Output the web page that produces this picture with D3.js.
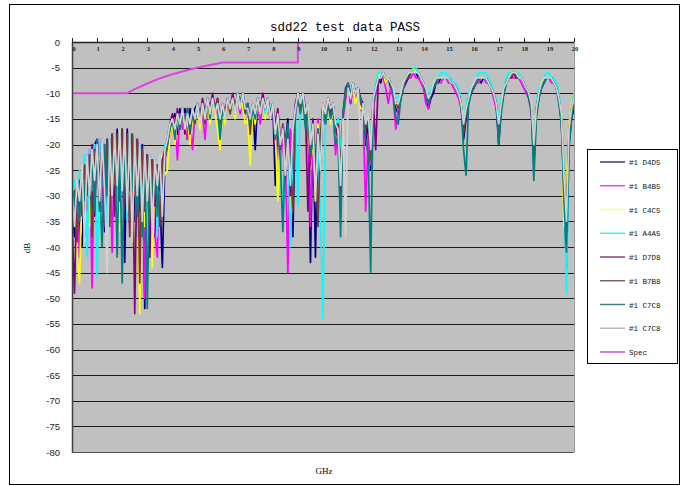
<!DOCTYPE html>
<html>
<head>
<meta charset="utf-8">
<script src="https://cdn.jsdelivr.net/npm/d3@7"></script>
<style>
  body { margin: 0; background: #fff; }
  svg { display: block; }
</style>
</head>
<body>
<svg id="chart" width="687" height="486"></svg>
<script>
// sweep grid: one point every 0.1 GHz from 0 to 20 GHz
const freqStep = 0.1;

const xTicks = [0, 1, 2, 3, 4, 5, 6, 7, 8, 9, 10, 11, 12, 13, 14, 15, 16, 17, 18, 19, 20];
const yTicks = [0, -5, -10, -15, -20, -25, -30, -35, -40, -45, -50, -55, -60, -65, -70, -75, -80];

const seriesNames = ['#1 D4D5', '#1 B4B5', '#1 C4C5', '#1 A4A5', '#1 D7D8', '#1 B7B8', '#1 C7C8', '#1 C7C8'];

// measured sdd22 (dB)
const d4d5 = [
  -33, -38, -29, -36, -40, -26, -31, -22, -35, -20,
  -19, -30, -20, -37, -19, -28, -18, -33, -17, -26,
  -17, -43, -17, -30, -18, -35, -19, -40, -20, -52,
  -22, -34, -23, -38, -24, -30, -44, -23, -20, -17,
  -15, -14, -18, -13, -16, -13, -19, -13, -15, -13,
  -12, -16, -12, -15, -11, -13, -11, -14, -12, -16,
  -12, -14, -11, -13, -11, -14, -10, -12, -10, -13,
  -13, -16, -12, -21, -11, -14, -11, -13, -11, -15,
  -12, -28, -14, -22, -16, -20, -15, -30, -38, -14,
  -10, -12, -10, -15, -12, -43, -16, -42, -16, -24,
  -12, -15, -11, -13, -12, -18, -15, -24, -14, -10,
  -9, -12, -8, -10, -9, -12, -12, -20, -16, -25,
  -12, -9, -7, -8, -6, -8, -7, -9, -10, -13,
  -14, -11, -9, -8, -7, -6, -6, -6, -7, -7,
  -8, -10, -13, -11, -10, -8, -8, -7, -7, -7,
  -7, -8, -8, -9, -10, -12, -19, -15, -12, -10,
  -9, -8, -7, -8, -7, -7, -8, -9, -10, -12,
  -20, -13, -10, -8, -7, -7, -6, -7, -7, -7,
  -8, -9, -11, -13, -22, -14, -11, -9, -8, -7,
  -7, -7, -8, -9, -11, -16, -30, -44, -20, -15,
  -13
];
const b4b5 = [
  -30, -34, -28, -42, -27, -24, -33, -21, -48, -20,
  -22, -19, -33, -20, -27, -19, -41, -18, -30, -19,
  -18, -31, -18, -36, -19, -28, -20, -37, -21, -50,
  -23, -31, -24, -37, -42, -25, -28, -22, -21, -18,
  -16, -15, -23, -14, -17, -14, -19, -15, -21, -14,
  -13, -16, -14, -19, -12, -15, -11, -14, -13, -17,
  -13, -15, -12, -14, -11, -13, -11, -14, -11, -13,
  -14, -17, -13, -15, -12, -16, -11, -14, -12, -15,
  -13, -20, -16, -25, -18, -22, -45, -17, -20, -14,
  -11, -13, -10, -14, -13, -36, -17, -28, -15, -21,
  -13, -16, -12, -14, -13, -22, -16, -26, -15, -11,
  -10, -12, -9, -11, -10, -13, -14, -33, -18, -24,
  -13, -10, -8, -7, -7, -9, -12, -9, -11, -17,
  -13, -11, -9, -8, -7, -7, -6, -7, -7, -8,
  -9, -12, -13, -10, -9, -8, -8, -8, -7, -7,
  -8, -8, -9, -10, -11, -13, -17, -14, -11, -10,
  -9, -8, -8, -7, -7, -8, -8, -9, -11, -13,
  -17, -12, -10, -8, -7, -7, -7, -7, -7, -8,
  -9, -10, -11, -14, -20, -13, -10, -9, -8, -7,
  -7, -8, -8, -9, -12, -15, -25, -40, -18, -13,
  -11
];
const c4c5 = [
  -36, -30, -42, -47, -28, -33, -23, -36, -21, -31,
  -20, -35, -21, -26, -20, -34, -19, -28, -19, -37,
  -18, -26, -19, -33, -19, -53, -20, -53, -22, -36,
  -23, -29, -44, -25, -30, -24, -22, -26, -25, -18,
  -16, -20, -15, -17, -14, -18, -15, -20, -14, -16,
  -13, -17, -13, -15, -12, -16, -12, -14, -17, -21,
  -13, -16, -12, -14, -11, -15, -11, -13, -12, -16,
  -15, -24, -13, -16, -12, -14, -11, -15, -12, -14,
  -12, -17, -31, -19, -16, -24, -17, -33, -19, -13,
  -10, -14, -11, -16, -13, -25, -18, -31, -16, -20,
  -12, -15, -11, -16, -13, -19, -17, -23, -14, -10,
  -8, -11, -9, -12, -10, -13, -13, -17, -15, -21,
  -11, -8, -6, -7, -6, -8, -7, -8, -10, -12,
  -13, -10, -8, -7, -6, -6, -5, -6, -6, -7,
  -8, -10, -11, -9, -8, -7, -7, -7, -7, -7,
  -7, -8, -8, -9, -10, -11, -15, -13, -11, -9,
  -8, -8, -7, -7, -7, -7, -8, -9, -10, -12,
  -16, -12, -9, -8, -7, -6, -6, -6, -7, -7,
  -8, -9, -10, -12, -18, -13, -10, -8, -7, -7,
  -7, -7, -8, -9, -11, -14, -36, -28, -16, -12,
  -10
];
const a4a5 = [
  -31, -27, -37, -25, -30, -22, -42, -21, -29, -20,
  -46, -19, -28, -20, -36, -19, -27, -18, -32, -18,
  -24, -18, -35, -18, -27, -19, -38, -20, -30, -21,
  -36, -22, -30, -23, -38, -22, -26, -20, -19, -17,
  -15, -18, -14, -16, -13, -17, -14, -18, -13, -16,
  -12, -15, -12, -16, -11, -14, -11, -13, -12, -19,
  -12, -15, -11, -13, -11, -14, -10, -13, -10, -14,
  -13, -17, -12, -15, -11, -13, -11, -14, -11, -13,
  -12, -18, -14, -20, -36, -19, -18, -40, -22, -13,
  -32, -12, -10, -14, -12, -19, -16, -27, -22, -34,
  -54, -16, -12, -14, -12, -16, -15, -22, -13, -10,
  -9, -11, -8, -10, -9, -11, -12, -16, -14, -19,
  -11, -8, -6, -6, -6, -7, -7, -8, -9, -11,
  -11, -10, -8, -7, -6, -6, -5, -5, -6, -7,
  -8, -9, -11, -9, -8, -7, -7, -6, -6, -6,
  -7, -7, -8, -8, -9, -11, -16, -12, -10, -9,
  -8, -7, -6, -6, -6, -6, -7, -8, -10, -11,
  -15, -11, -9, -7, -6, -6, -6, -6, -6, -7,
  -8, -9, -10, -12, -21, -12, -9, -8, -7, -6,
  -6, -7, -7, -8, -10, -14, -24, -49, -19, -13,
  -10
];
const d7d8 = [
  -35, -49, -28, -33, -25, -38, -22, -29, -20, -34,
  -20, -27, -19, -36, -19, -29, -18, -34, -18, -27,
  -17, -32, -18, -29, -18, -53, -19, -33, -21, -28,
  -22, -42, -23, -32, -24, -29, -23, -21, -19, -16,
  -14, -17, -13, -16, -13, -18, -13, -17, -13, -15,
  -12, -15, -11, -14, -11, -13, -10, -13, -11, -15,
  -12, -14, -11, -13, -10, -13, -10, -12, -10, -13,
  -12, -15, -12, -14, -11, -13, -10, -13, -11, -14,
  -12, -16, -13, -19, -17, -23, -16, -30, -18, -12,
  -10, -13, -10, -13, -33, -21, -15, -26, -17, -22,
  -12, -14, -11, -14, -12, -17, -19, -33, -14, -9,
  -8, -11, -8, -10, -9, -11, -12, -18, -15, -22,
  -11, -21, -8, -7, -6, -7, -7, -8, -10, -12,
  -12, -11, -9, -8, -7, -6, -6, -6, -6, -7,
  -8, -10, -12, -10, -9, -8, -7, -7, -7, -7,
  -7, -8, -8, -9, -10, -12, -17, -14, -11, -10,
  -9, -8, -7, -7, -7, -7, -8, -9, -10, -12,
  -18, -13, -10, -8, -7, -7, -6, -7, -7, -7,
  -8, -9, -11, -13, -24, -13, -10, -9, -8, -7,
  -7, -7, -8, -9, -11, -15, -29, -37, -18, -14,
  -12
];
const b7b8 = [
  -32, -29, -39, -27, -34, -24, -30, -22, -38, -21,
  -21, -33, -20, -29, -19, -36, -18, -27, -18, -31,
  -17, -28, -18, -38, -18, -30, -19, -47, -21, -33,
  -22, -35, -23, -29, -24, -36, -24, -22, -20, -17,
  -15, -16, -14, -17, -13, -16, -13, -18, -14, -16,
  -12, -14, -12, -16, -11, -14, -11, -13, -11, -16,
  -12, -14, -11, -14, -11, -13, -10, -12, -10, -14,
  -12, -18, -12, -14, -11, -14, -11, -13, -11, -14,
  -12, -17, -15, -21, -16, -27, -17, -24, -33, -13,
  -10, -13, -11, -15, -12, -24, -16, -22, -36, -18,
  -12, -15, -11, -13, -12, -17, -16, -25, -14, -10,
  -9, -11, -8, -10, -9, -12, -13, -17, -15, -23,
  -11, -9, -7, -7, -6, -7, -7, -8, -10, -12,
  -13, -11, -9, -7, -7, -6, -6, -6, -6, -7,
  -8, -10, -12, -10, -9, -8, -7, -7, -7, -7,
  -7, -8, -8, -9, -10, -12, -18, -14, -11, -10,
  -9, -8, -7, -7, -7, -7, -8, -9, -10, -12,
  -17, -12, -10, -8, -7, -7, -6, -7, -7, -7,
  -8, -9, -10, -13, -22, -13, -10, -9, -8, -7,
  -7, -7, -8, -9, -11, -15, -27, -33, -17, -13,
  -11
];
const c7c8a = [
  -38, -30, -28, -35, -26, -31, -23, -29, -21, -33,
  -19, -28, -40, -20, -30, -19, -27, -18, -42, -18,
  -47, -18, -31, -18, -29, -19, -34, -20, -38, -21,
  -52, -22, -30, -23, -34, -23, -32, -22, -20, -17,
  -15, -19, -14, -17, -14, -16, -13, -17, -14, -15,
  -12, -15, -12, -14, -11, -15, -11, -13, -12, -19,
  -13, -15, -12, -13, -11, -14, -10, -12, -10, -13,
  -12, -16, -13, -15, -11, -13, -11, -13, -11, -14,
  -13, -19, -16, -23, -37, -20, -16, -25, -19, -13,
  -11, -14, -11, -17, -13, -22, -19, -26, -17, -23,
  -13, -16, -12, -15, -13, -20, -18, -38, -14, -10,
  -8, -10, -8, -10, -9, -11, -13, -19, -22, -45,
  -12, -9, -7, -7, -6, -7, -7, -8, -10, -15,
  -16, -11, -9, -7, -6, -6, -6, -6, -6, -7,
  -8, -10, -12, -10, -9, -8, -7, -7, -7, -7,
  -7, -8, -8, -9, -10, -12, -21, -26, -12, -10,
  -9, -8, -7, -7, -7, -7, -8, -9, -10, -12,
  -20, -14, -10, -8, -7, -6, -6, -6, -7, -7,
  -8, -9, -11, -13, -27, -15, -11, -9, -8, -7,
  -7, -7, -8, -9, -12, -16, -31, -41, -21, -15,
  -12
];
const c7c8b = [
  -29, -36, -27, -31, -24, -39, -22, -30, -21, -27,
  -20, -31, -19, -29, -45, -19, -30, -18, -28, -17,
  -29, -17, -33, -18, -39, -19, -30, -20, -35, -21,
  -31, -22, -37, -23, -28, -22, -34, -21, -19, -16,
  -15, -17, -14, -16, -13, -17, -14, -16, -13, -15,
  -12, -16, -12, -15, -11, -14, -11, -14, -12, -15,
  -12, -15, -11, -13, -11, -14, -10, -13, -10, -13,
  -13, -15, -12, -14, -11, -14, -11, -13, -11, -15,
  -12, -18, -14, -20, -17, -26, -19, -28, -17, -13,
  -10, -12, -10, -14, -12, -20, -16, -31, -18, -25,
  -12, -14, -11, -13, -12, -16, -17, -28, -15, -38,
  -9, -11, -8, -10, -9, -20, -12, -16, -14, -21,
  -11, -9, -7, -7, -6, -7, -7, -8, -9, -12,
  -12, -10, -8, -7, -6, -6, -6, -6, -6, -7,
  -8, -9, -11, -10, -8, -7, -7, -7, -7, -7,
  -7, -8, -8, -9, -10, -12, -16, -13, -11, -9,
  -8, -7, -7, -7, -7, -7, -8, -9, -10, -12,
  -16, -12, -9, -8, -7, -6, -6, -6, -7, -7,
  -8, -9, -10, -12, -20, -13, -10, -8, -7, -7,
  -7, -7, -8, -9, -11, -14, -26, -35, -17, -13,
  -11
];

// spec limit (GHz, dB)
const specFreq = [0, 2.2, 2.5, 3, 3.5, 4, 4.5, 5, 5.5, 6, 9, 9];
const specDb = [-10, -10, -9.2, -8.1, -7.1, -6.3, -5.6, -5, -4.5, -4, -4, 0];

const seriesValues = [d4d5, b4b5, c4c5, a4a5, d7d8, b7b8, c7c8a, c7c8b];
const seriesColors = ['#000080', '#ff00ff', '#ffff00', '#00ffff', '#800080', '#7a3a3a', '#008080', '#d2d2d2'];
const legendColors = ['#3a3a80', '#ee44ee', '#ffff66', '#44eeee', '#804080', '#806060', '#408080', '#b8b8b8'];
const specColor = '#dd44dd';

const svg = d3.select('#chart');
const plot = {left: 72, right: 574, top: 42, bottom: 452};

const x = d3.scaleLinear().domain([0, 20]).range([plot.left, plot.right]);
const y = d3.scaleLinear().domain([-80, 0]).range([plot.bottom, plot.top]);

// outer frame
svg.append('rect')
  .attr('x', 9.5).attr('y', 4.5)
  .attr('width', 670).attr('height', 480)
  .attr('fill', '#fff').attr('stroke', '#000').attr('stroke-width', 1);

// title
svg.append('text')
  .attr('x', 345).attr('y', 31)
  .attr('text-anchor', 'middle')
  .style('font-family', '"Liberation Mono", monospace')
  .style('font-size', '12.5px')
  .text('sdd22 test data PASS');

// plot background
svg.append('rect')
  .attr('x', plot.left).attr('y', plot.top)
  .attr('width', plot.right - plot.left).attr('height', plot.bottom - plot.top)
  .attr('fill', '#c0c0c0');

// horizontal gridlines
svg.append('g')
  .selectAll('line')
  .data(yTicks.filter(t => t < 0 && t > -80))
  .join('line')
    .attr('x1', plot.left).attr('x2', plot.right)
    .attr('y1', d => Math.round(y(d)) + 0.5).attr('y2', d => Math.round(y(d)) + 0.5)
    .attr('stroke', '#1a1a1a').attr('stroke-width', 1.2);

// y labels
svg.append('g')
  .selectAll('text')
  .data(yTicks)
  .join('text')
    .attr('x', 60).attr('y', d => y(d) + 3.5)
    .attr('text-anchor', 'end')
    .style('font-family', '"Liberation Sans", Arial, sans-serif')
    .style('font-size', '9.5px')
    .attr('fill', '#222')
    .text(d => d === 0 ? '0' : '-' + Math.abs(d));

// series
svg.append('clipPath').attr('id', 'plotClip')
  .append('rect')
  .attr('x', plot.left).attr('y', plot.top - 1)
  .attr('width', plot.right - plot.left).attr('height', plot.bottom - plot.top + 1);

const line = d3.line()
  .x((d, i) => x(i * freqStep))
  .y(d => y(d));

const gSeries = svg.append('g').attr('clip-path', 'url(#plotClip)');

gSeries.selectAll('path.series')
  .data(seriesValues)
  .join('path')
    .attr('class', 'series')
    .attr('d', line)
    .attr('fill', 'none')
    .attr('stroke', (d, i) => seriesColors[i])
    .attr('stroke-width', 1.7)
    .attr('stroke-linejoin', 'round');

const specLine = d3.line()
  .x(d => x(d[0]))
  .y(d => y(d[1]));

gSeries.append('path')
  .attr('d', specLine(specFreq.map((f, i) => [f, specDb[i]])))
  .attr('fill', 'none')
  .attr('stroke', specColor)
  .attr('stroke-width', 2);

// plot border
svg.append('line')
  .attr('x1', plot.left + 0.5).attr('x2', plot.left + 0.5)
  .attr('y1', plot.top).attr('y2', plot.bottom + 1)
  .attr('stroke', '#404040').attr('stroke-width', 1.5);
svg.append('line')
  .attr('x1', plot.left).attr('x2', plot.right)
  .attr('y1', plot.bottom + 0.5).attr('y2', plot.bottom + 0.5)
  .attr('stroke', '#505050').attr('stroke-width', 1.2);
svg.append('line')
  .attr('x1', plot.right + 0.5).attr('x2', plot.right + 0.5)
  .attr('y1', plot.top).attr('y2', plot.bottom)
  .attr('stroke', '#9a9a9a').attr('stroke-width', 1);

// x axis sits on the 0 dB line, ticks pointing up
svg.append('line')
  .attr('x1', plot.left).attr('x2', plot.right)
  .attr('y1', plot.top + 0.5).attr('y2', plot.top + 0.5)
  .attr('stroke', '#222').attr('stroke-width', 1.3);

svg.append('g')
  .selectAll('line')
  .data(xTicks)
  .join('line')
    .attr('x1', d => Math.round(x(d)) + 0.5).attr('x2', d => Math.round(x(d)) + 0.5)
    .attr('y1', plot.top - 4).attr('y2', plot.top)
    .attr('stroke', '#222').attr('stroke-width', 1);

svg.append('g')
  .selectAll('text')
  .data(xTicks)
  .join('text')
    .attr('x', d => x(d) + (d === 0 ? 1 : 0) + 1)
    .attr('y', plot.top + 9)
    .attr('text-anchor', 'middle')
    .style('font-family', '"Liberation Serif", serif')
    .style('font-size', '6.5px')
    .style('font-weight', 'bold')
    .attr('fill', '#222')
    .text(d => d);

// axis titles
svg.append('text')
  .attr('x', 324).attr('y', 474)
  .attr('text-anchor', 'middle')
  .style('font-family', '"Liberation Serif", serif')
  .style('font-size', '9px')
  .text('GHz');

svg.append('text')
  .attr('transform', 'translate(30,248) rotate(-90)')
  .attr('text-anchor', 'middle')
  .style('font-family', '"Liberation Serif", serif')
  .style('font-size', '9px')
  .text('dB');

// legend
const legend = svg.append('g');
legend.append('rect')
  .attr('x', 587.5).attr('y', 149.5)
  .attr('width', 90).attr('height', 214)
  .attr('fill', '#fff').attr('stroke', '#000').attr('stroke-width', 1);

const legendItems = seriesNames.map((name, i) => ({name: name, color: legendColors[i]}))
  .concat([{name: 'Spec', color: '#cc55cc'}]);

const item = legend.selectAll('g.item')
  .data(legendItems)
  .join('g')
    .attr('class', 'item')
    .attr('transform', (d, i) => `translate(0,${162 + i * 23.75})`);

item.append('line')
  .attr('x1', 600).attr('x2', 625)
  .attr('y1', 0).attr('y2', 0)
  .attr('stroke', d => d.color)
  .attr('stroke-width', 1.5);

item.append('text')
  .attr('x', 629).attr('y', 3)
  .style('font-family', '"Liberation Mono", monospace')
  .style('font-size', '7.5px')
  .attr('fill', '#111')
  .text(d => d.name);
</script>
</body>
</html>
